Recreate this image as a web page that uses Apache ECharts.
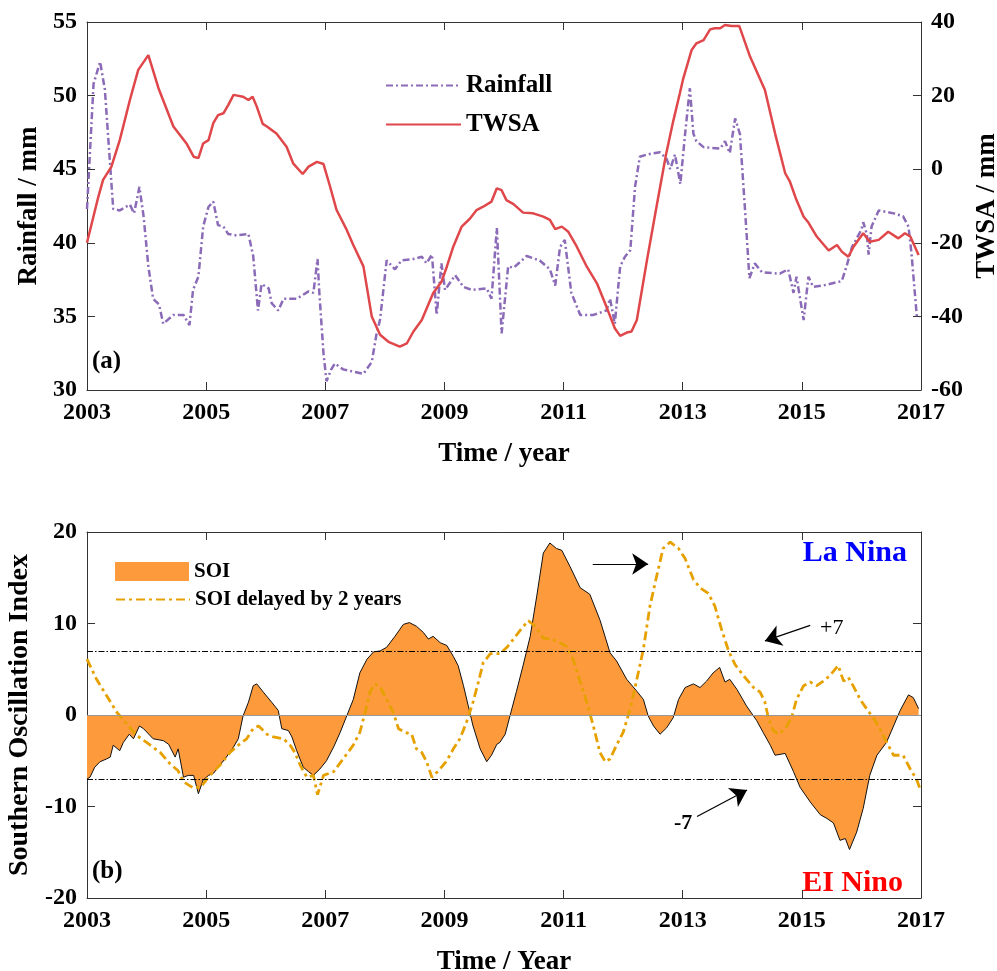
<!DOCTYPE html>
<html>
<head>
<meta charset="utf-8">
<script src="https://cdn.jsdelivr.net/npm/echarts@6/dist/echarts.min.js"></script>
<style>
  html, body { margin: 0; padding: 0; background: #fff; }
  #chart { width: 997px; height: 971px; }
</style>
</head>
<body>
<div id="chart"></div>
<script>
// x values are decimal years, drawn as (year - BASE) so ticks land on 2003, 2005, ...
var BASE = 2003;
var yearTicks = [2003, 2005, 2007, 2009, 2011, 2013, 2015, 2017];

// panel (a): rainfall (left axis, mm)
var rainTime = [2003.00, 2003.11, 2003.22, 2003.30, 2003.39, 2003.44, 2003.55, 2003.72, 2003.79, 2003.88,
  2003.95, 2004.03, 2004.11, 2004.21, 2004.28, 2004.45, 2004.62, 2004.72, 2004.78, 2004.87,
  2004.95, 2005.04, 2005.12, 2005.20, 2005.29, 2005.37, 2005.51, 2005.71, 2005.79, 2005.87,
  2005.93, 2006.05, 2006.10, 2006.21, 2006.30, 2006.52, 2006.72, 2006.80, 2006.87, 2006.90,
  2006.97, 2007.02, 2007.10, 2007.16, 2007.30, 2007.64, 2007.78, 2007.86, 2007.92, 2008.03,
  2008.17, 2008.28, 2008.48, 2008.62, 2008.70, 2008.79, 2008.87, 2008.95, 2009.01, 2009.18,
  2009.32, 2009.46, 2009.71, 2009.79, 2009.88, 2009.96, 2010.07, 2010.16, 2010.38, 2010.60,
  2010.77, 2010.86, 2010.94, 2011.02, 2011.13, 2011.28, 2011.50, 2011.72, 2011.78, 2011.86,
  2011.95, 2012.03, 2012.12, 2012.20, 2012.28, 2012.40, 2012.62, 2012.73, 2012.79, 2012.87,
  2012.96, 2013.04, 2013.12, 2013.18, 2013.23, 2013.35, 2013.63, 2013.71, 2013.79, 2013.88,
  2013.96, 2014.05, 2014.12, 2014.21, 2014.33, 2014.63, 2014.77, 2014.86, 2014.91, 2015.03,
  2015.11, 2015.19, 2015.36, 2015.67, 2015.75, 2015.84, 2015.92, 2016.00, 2016.03, 2016.09,
  2016.12, 2016.17, 2016.29, 2016.54, 2016.70, 2016.79, 2016.84, 2016.93, 2016.98];
var rainValue = [42.3, 50.8, 52.3, 50.4, 45.2, 42.3, 42.2, 42.6, 42.0, 43.8,
  41.8, 38.4, 36.2, 35.8, 34.5, 35.1, 35.1, 34.4, 36.8, 37.7,
  41.1, 42.45, 42.8, 41.2, 41.1, 40.6, 40.5, 40.6, 39.1, 35.4,
  37.2, 36.9, 35.9, 35.4, 36.2, 36.2, 36.7, 36.6, 38.9, 36.6,
  32.5, 30.6, 31.4, 31.8, 31.4, 31.1, 31.9, 33.8, 34.8, 38.8,
  38.2, 38.8, 38.9, 39.05, 38.6, 39.2, 35.1, 38.6, 36.8, 37.8,
  37.0, 36.8, 36.9, 36.2, 41.0, 33.85, 38.4, 38.3, 39.1, 38.8,
  38.2, 37.1, 39.7, 40.2, 36.6, 35.1, 35.1, 35.4, 36.2, 34.5,
  38.4, 39.05, 39.5, 43.8, 45.85, 46.0, 46.15, 45.7, 45.0, 46.0,
  44.0, 47.4, 50.5, 47.4, 46.9, 46.5, 46.4, 46.9, 46.1, 48.45,
  47.4, 42.0, 37.6, 38.6, 38.0, 37.9, 38.2, 36.6, 37.7, 34.75,
  37.7, 37.0, 37.1, 37.4, 38.4, 39.7, 40.3, 40.9, 41.4, 40.6,
  39.2, 41.1, 42.2, 42.0, 41.8, 41.1, 39.3, 35.0, 35.0];

// panel (a): TWSA (right axis, mm)
var twsaTime = [2003.00, 2003.19, 2003.27, 2003.41, 2003.55, 2003.72, 2003.86, 2004.03, 2004.20, 2004.45,
  2004.67, 2004.79, 2004.87, 2004.95, 2005.04, 2005.12, 2005.20, 2005.29, 2005.37, 2005.46,
  2005.62, 2005.71, 2005.78, 2005.85, 2005.95, 2006.02, 2006.18, 2006.35, 2006.46, 2006.62,
  2006.72, 2006.86, 2006.97, 2007.08, 2007.19, 2007.36, 2007.47, 2007.64, 2007.78, 2007.92,
  2008.06, 2008.25, 2008.37, 2008.48, 2008.62, 2008.81, 2008.95, 2009.04, 2009.15, 2009.29,
  2009.43, 2009.54, 2009.65, 2009.79, 2009.88, 2009.96, 2010.04, 2010.16, 2010.32, 2010.49,
  2010.66, 2010.77, 2010.86, 2010.97, 2011.08, 2011.22, 2011.39, 2011.56, 2011.72, 2011.86,
  2011.95, 2012.06, 2012.14, 2012.23, 2012.40, 2012.56, 2012.72, 2012.84, 2012.95, 2013.01,
  2013.15, 2013.23, 2013.35, 2013.46, 2013.54, 2013.63, 2013.71, 2013.82, 2013.95, 2014.13,
  2014.38, 2014.55, 2014.72, 2014.80, 2014.91, 2015.03, 2015.11, 2015.25, 2015.45, 2015.59,
  2015.67, 2015.78, 2015.87, 2016.03, 2016.14, 2016.29, 2016.45, 2016.62, 2016.73, 2016.82,
  2016.96];
var twsaValue = [-20.0, -7.5, -2.9, 0.7, 7.9, 18.8, 27.0, 31.0, 22.0, 11.6,
  7.0, 3.4, 3.0, 7.0, 7.9, 12.5, 14.7, 15.2, 17.4, 20.2,
  19.7, 18.8, 19.7, 17.0, 12.3, 11.6, 9.7, 6.1, 1.6, -1.3,
  0.7, 2.0, 1.4, -4.7, -11.1, -16.5, -20.6, -26.4, -40.0, -45.0,
  -46.9, -48.2, -47.3, -44.1, -41.0, -33.7, -30.6, -26.5, -21.0, -15.6,
  -13.4, -11.1, -10.2, -8.8, -5.2, -5.7, -8.4, -9.5, -11.8, -12.0,
  -12.9, -13.8, -16.3, -15.6, -17.0, -21.0, -26.5, -31.0, -37.4, -43.2,
  -45.3, -44.4, -44.1, -41.0, -24.7, -10.2, 4.0, 13.0, 20.5, 24.7,
  32.4, 34.2, 35.1, 38.0, 38.3, 38.3, 39.2, 38.9, 38.9, 30.6,
  21.5, 9.75, -1.1, -3.4, -8.4, -12.9, -14.5, -18.3, -22.1, -20.6,
  -22.4, -23.8, -21.0, -17.4, -19.7, -19.2, -17.0, -18.8, -17.4, -18.3,
  -23.3];

// panel (b): SOI
var soiTime = [2003.00, 2003.05, 2003.13, 2003.22, 2003.33, 2003.39, 2003.44, 2003.47, 2003.55, 2003.61,
  2003.71, 2003.78, 2003.88, 2003.95, 2004.11, 2004.28, 2004.37, 2004.48, 2004.53, 2004.62,
  2004.70, 2004.79, 2004.87, 2004.95, 2005.04, 2005.12, 2005.23, 2005.34, 2005.46, 2005.54,
  2005.62, 2005.71, 2005.79, 2005.85, 2005.96, 2006.10, 2006.21, 2006.27, 2006.38, 2006.44,
  2006.52, 2006.63, 2006.72, 2006.80, 2006.91, 2007.02, 2007.14, 2007.25, 2007.36, 2007.47,
  2007.58, 2007.70, 2007.81, 2007.92, 2008.03, 2008.17, 2008.31, 2008.41, 2008.53, 2008.65,
  2008.73, 2008.81, 2008.93, 2009.04, 2009.15, 2009.23, 2009.32, 2009.40, 2009.48, 2009.60,
  2009.71, 2009.79, 2009.88, 2009.93, 2010.02, 2010.10, 2010.21, 2010.32, 2010.44, 2010.55,
  2010.66, 2010.77, 2010.88, 2010.97, 2011.11, 2011.28, 2011.44, 2011.61, 2011.78, 2011.89,
  2012.06, 2012.23, 2012.34, 2012.42, 2012.51, 2012.62, 2012.73, 2012.84, 2012.93, 2013.04,
  2013.18, 2013.29, 2013.40, 2013.51, 2013.62, 2013.71, 2013.79, 2013.91, 2014.07, 2014.24,
  2014.35, 2014.47, 2014.55, 2014.72, 2014.86, 2014.97, 2015.14, 2015.31, 2015.42, 2015.53,
  2015.64, 2015.73, 2015.80, 2015.92, 2016.03, 2016.14, 2016.26, 2016.42, 2016.54, 2016.65,
  2016.79, 2016.87, 2016.96];
var soiValue = [-7.0, -6.8, -5.7, -5.1, -4.8, -4.6, -3.3, -3.2, -3.9, -3.0,
  -2.1, -2.6, -1.2, -1.5, -2.6, -2.8, -3.2, -4.6, -3.7, -6.8,
  -6.6, -6.6, -8.6, -7.1, -6.6, -6.4, -5.5, -4.6, -3.5, -2.6,
  -0.1, 1.4, 3.2, 3.4, 2.5, 1.4, 0.5, -1.5, -1.7, -2.4,
  -3.9, -5.7, -6.2, -6.6, -5.9, -5.0, -3.5, -1.9, -0.1, 1.7,
  4.6, 6.1, 6.9, 7.0, 7.4, 8.6, 9.9, 10.1, 9.7, 9.0,
  8.3, 8.6, 7.9, 7.6, 6.4, 5.4, 3.2, 1.0, -1.2, -3.7,
  -5.1, -4.4, -3.2, -3.0, -2.1, -0.1, 2.6, 5.4, 8.6, 13.0,
  17.7, 18.8, 18.2, 18.0, 16.2, 13.9, 13.2, 10.4, 6.8, 5.9,
  3.9, 2.6, 1.7, -0.1, -1.2, -2.1, -1.4, -0.3, 1.7, 3.0,
  3.4, 3.0, 3.7, 4.6, 5.2, 3.6, 3.9, 2.8, 1.0, -0.6,
  -1.9, -3.3, -4.4, -4.2, -6.2, -7.9, -9.5, -10.9, -11.3, -11.8,
  -13.7, -13.5, -14.7, -12.8, -10.2, -6.6, -4.4, -3.0, -1.2, 0.5,
  2.2, 1.9, 0.7];

// panel (b): SOI delayed by 2 years
var lagTime = [2003.00, 2003.16, 2003.33, 2003.50, 2003.67, 2003.83, 2004.00, 2004.23, 2004.39, 2004.53,
  2004.62, 2004.79, 2004.92, 2005.06, 2005.23, 2005.40, 2005.54, 2005.68, 2005.79, 2005.88,
  2006.02, 2006.13, 2006.30, 2006.41, 2006.49, 2006.58, 2006.69, 2006.80, 2006.87, 2006.97,
  2007.14, 2007.30, 2007.47, 2007.58, 2007.67, 2007.75, 2007.83, 2007.92, 2008.03, 2008.14,
  2008.23, 2008.34, 2008.45, 2008.53, 2008.62, 2008.70, 2008.79, 2008.90, 2009.04, 2009.15,
  2009.26, 2009.37, 2009.48, 2009.57, 2009.65, 2009.77, 2009.93, 2010.05, 2010.16, 2010.30,
  2010.41, 2010.52, 2010.66, 2010.80, 2010.94, 2011.05, 2011.16, 2011.28, 2011.39, 2011.50,
  2011.61, 2011.70, 2011.78, 2011.89, 2012.00, 2012.12, 2012.23, 2012.34, 2012.45, 2012.56,
  2012.67, 2012.79, 2012.93, 2013.04, 2013.18, 2013.29, 2013.43, 2013.54, 2013.65, 2013.77,
  2013.88, 2014.02, 2014.19, 2014.30, 2014.38, 2014.44, 2014.52, 2014.61, 2014.72, 2014.83,
  2014.91, 2015.03, 2015.14, 2015.25, 2015.36, 2015.47, 2015.61, 2015.70, 2015.78, 2015.86,
  2015.98, 2016.09, 2016.23, 2016.34, 2016.45, 2016.54, 2016.70, 2016.82, 2016.93, 2016.98];
var lagValue = [6.1, 3.9, 2.1, 0.3, -1.0, -2.2, -3.0, -4.1, -5.3, -6.1,
  -7.3, -8.0, -7.8, -6.6, -5.5, -4.1, -3.3, -2.6, -1.5, -1.2,
  -2.1, -2.4, -2.6, -3.3, -4.1, -5.5, -6.8, -6.6, -8.7, -6.6,
  -6.2, -4.8, -3.3, -1.9, 0.3, 2.5, 3.4, 3.1, 1.7, 0.3,
  -1.5, -1.9, -2.1, -3.7, -4.1, -5.1, -6.8, -6.1, -5.0, -3.7,
  -2.6, -0.8, 1.4, 3.6, 5.7, 6.7, 6.7, 7.4, 8.3, 9.5,
  10.3, 9.7, 8.4, 8.3, 7.9, 7.5, 6.1, 3.6, 1.4, -1.2,
  -4.1, -5.1, -4.8, -3.3, -1.9, 0.7, 3.9, 7.2, 11.9, 15.1,
  18.2, 18.9, 18.2, 17.1, 14.8, 13.9, 13.3, 11.9, 9.4, 7.0,
  5.5, 4.3, 3.0, 2.5, 1.4, -0.4, -1.7, -2.1, -1.5, -0.25,
  1.7, 3.2, 3.6, 3.2, 3.7, 4.3, 5.4, 3.7, 4.1, 3.2,
  1.7, 0.65, -0.6, -1.9, -3.3, -4.4, -4.4, -5.9, -7.1, -8.0];

// thresholds and annotation arrows (panel b, data coords: [year, SOI])
var soiThresholds = [7, -7];
var arrows = [
  [[2011.49, 16.5], [2012.42, 16.5]],
  [[2015.14, 9.8], [2014.38, 8.1]],
  [[2013.24, -11.1], [2014.08, -8.2]]
];

function pairs(times, values) {
  return times.map(function (t, i) { return [t - BASE, values[i]]; });
}

var FONT = '"Liberation Serif", "Times New Roman", serif';
var frameColor = '#333';

function tickStyle() {
  return { fontFamily: FONT, fontWeight: 'bold', fontSize: 24, color: '#000' };
}

function xAxisFor(gridIndex, position, name) {
  return {
    type: 'value', gridIndex: gridIndex, position: position,
    min: 0, max: yearTicks[yearTicks.length - 1] - BASE, interval: 2,
    name: name || '', nameLocation: 'middle', nameGap: 51,
    nameTextStyle: { fontFamily: FONT, fontWeight: 'bold', fontSize: 27, color: '#000' },
    axisLine: { show: true, onZero: false, lineStyle: { color: frameColor, width: 1 } },
    axisTick: { show: true, inside: true, length: 8, lineStyle: { color: frameColor } },
    axisLabel: Object.assign({ show: position === 'bottom', margin: 11,
      formatter: function (v) { return v + BASE; } }, tickStyle()),
    splitLine: { show: false }
  };
}

function yAxisFor(gridIndex, position, min, max, interval, name, gap, labels, nameSize) {
  return {
    type: 'value', gridIndex: gridIndex, position: position,
    min: min, max: max, interval: interval,
    name: name || '', nameLocation: 'middle', nameGap: gap || 0, nameRotate: 90,
    nameTextStyle: { fontFamily: FONT, fontWeight: 'bold', fontSize: nameSize || 27, color: '#000' },
    axisLine: { show: true, onZero: false, lineStyle: { color: frameColor, width: 1 } },
    axisTick: { show: true, inside: true, length: 8, lineStyle: { color: frameColor } },
    axisLabel: Object.assign({ show: labels, margin: 10 }, tickStyle()),
    splitLine: { show: false }
  };
}

var dashDot = [6, 2, 1.5, 2];

var option = {
  animation: false,
  backgroundColor: '#fff',
  grid: [
    { left: 87, right: 76, top: 22, height: 368, outerBoundsMode: 'none', containLabel: false },
    { left: 87, right: 76, top: 532, height: 366, outerBoundsMode: 'none', containLabel: false }
  ],
  xAxis: [
    xAxisFor(0, 'bottom', 'Time / year'),
    xAxisFor(0, 'top'),
    xAxisFor(1, 'bottom', 'Time / Year'),
    xAxisFor(1, 'top')
  ],
  yAxis: [
    yAxisFor(0, 'left', 30, 55, 5, 'Rainfall / mm', 38, true),
    yAxisFor(0, 'right', -60, 40, 20, 'TWSA / mm', 45, true),
    yAxisFor(1, 'left', -20, 20, 10, 'Southern Oscillation Index', 45, true, 28),
    yAxisFor(1, 'right', -20, 20, 10, '', 0, false)
  ],
  legend: [
    {
      data: ['Rainfall', 'TWSA'], orient: 'vertical', left: 380, top: 68,
      itemWidth: 75, itemHeight: 14, itemGap: 14, itemTextGap: 7, selectedMode: false,
      itemStyle: { opacity: 0 },
      textStyle: { fontFamily: FONT, fontWeight: 'bold', fontSize: 25, color: '#000' }
    },
    {
      data: [{ name: 'SOI', icon: 'rect', itemStyle: { color: '#fd9a3c', borderWidth: 0 } }],
      orient: 'vertical', left: 110, top: 556,
      itemWidth: 74, itemHeight: 19, itemTextGap: 7, selectedMode: false,
      textStyle: { fontFamily: FONT, fontWeight: 'bold', fontSize: 21, color: '#000' }
    },
    {
      data: ['SOI delayed by 2 years'], orient: 'vertical', left: 110, top: 584,
      itemWidth: 74, itemHeight: 14, itemTextGap: 7, selectedMode: false,
      itemStyle: { opacity: 0 },
      textStyle: { fontFamily: FONT, fontWeight: 'bold', fontSize: 21, color: '#000' }
    }
  ],
  series: [
    {
      name: 'Rainfall', type: 'line', xAxisIndex: 0, yAxisIndex: 0,
      data: pairs(rainTime, rainValue), symbol: 'none',
      itemStyle: { color: '#8b6bb8' },
      lineStyle: { color: '#8b6bb8', width: 2.5, type: [7, 3, 2, 3] }
    },
    {
      name: 'TWSA', type: 'line', xAxisIndex: 0, yAxisIndex: 1,
      data: pairs(twsaTime, twsaValue), symbol: 'none',
      itemStyle: { color: '#e0474a' },
      lineStyle: { color: '#e0474a', width: 2.5 }
    },
    {
      name: 'SOI', type: 'line', xAxisIndex: 2, yAxisIndex: 2,
      data: pairs(soiTime, soiValue), symbol: 'none',
      itemStyle: { color: '#fd9a3c' },
      lineStyle: { color: '#111', width: 1 },
      areaStyle: { color: '#fd9a3c', opacity: 1, origin: 0 },
      markLine: {
        silent: true, symbol: 'none', label: { show: false },
        data: [{ yAxis: 0, lineStyle: { color: '#999', type: 'solid', width: 1 } }].concat(
          soiThresholds.map(function (v) {
            return { yAxis: v, lineStyle: { color: '#000', type: dashDot, width: 1 } };
          }))
      }
    },
    {
      name: 'SOI delayed by 2 years', type: 'line', xAxisIndex: 2, yAxisIndex: 2,
      data: pairs(lagTime, lagValue), symbol: 'none',
      itemStyle: { color: '#e6a100' },
      lineStyle: { color: '#e6a100', width: 2.8, type: [9, 4, 3, 4] },
      markLine: {
        silent: true, symbol: ['none', 'arrow'], symbolSize: 16,
        label: { show: false },
        lineStyle: { color: '#000', type: 'solid', width: 1.2 },
        data: arrows.map(function (a) {
          return [{ coord: [a[0][0] - BASE, a[0][1]] }, { coord: [a[1][0] - BASE, a[1][1]] }];
        })
      }
    }
  ],
  graphic: [
    { type: 'text', left: 92, top: 349, style: { text: '(a)', font: 'bold 25px ' + FONT, fill: '#000' } },
    { type: 'text', left: 92, top: 859, style: { text: '(b)', font: 'bold 25px ' + FONT, fill: '#000' } },
    { type: 'text', right: 90, top: 538, style: { text: 'La Nina', font: 'bold 30px ' + FONT, fill: '#0000ff' } },
    { type: 'text', right: 94, top: 868, style: { text: 'EI Nino', font: 'bold 30px ' + FONT, fill: '#ff0000' } },
    { type: 'text', left: 820, top: 617, style: { text: '+7', font: '22px ' + FONT, fill: '#000' } },
    { type: 'text', left: 674, top: 812, style: { text: '-7', font: 'bold 22px ' + FONT, fill: '#000' } }
  ]
};

var chart = echarts.init(document.getElementById('chart'));
chart.setOption(option);
</script>
</body>
</html>
